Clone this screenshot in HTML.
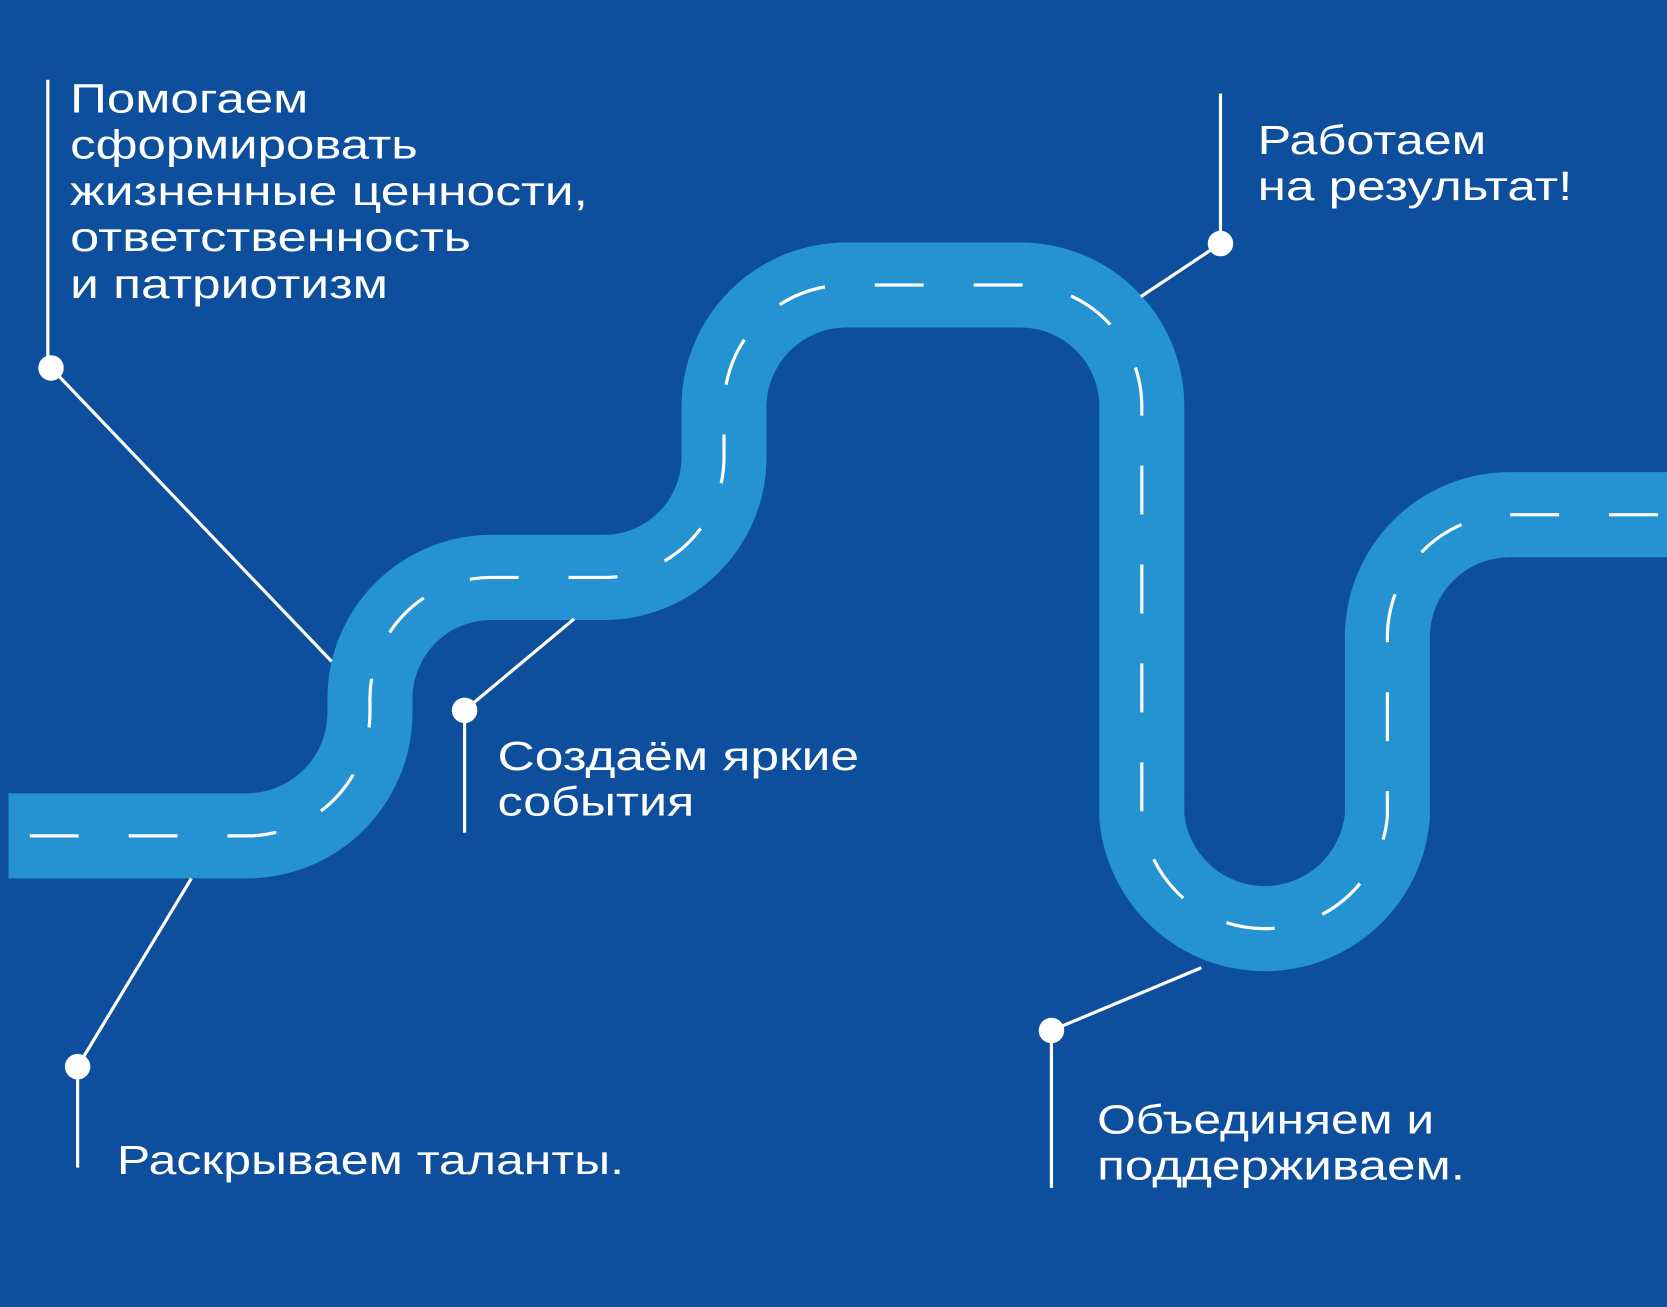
<!DOCTYPE html>
<html><head><meta charset="utf-8"><style>
html,body{margin:0;padding:0;background:#0d4f9c;}
svg{display:block;}
text{font-family:"Liberation Sans","DejaVu Sans",sans-serif;fill:#fff;font-size:38px;}
</style></head><body>
<svg width="1667" height="1307" viewBox="0 0 1568 1229" preserveAspectRatio="none" xmlns="http://www.w3.org/2000/svg">
<rect x="0" y="0" width="1568" height="1229" fill="#0d4f9c"/>
<g fill="none">
<path d="M8 786 H232 A116 116 0 0 0 348 670 V660 A114 114 0 0 1 462 543 H568 A113 113 0 0 0 681 430 V383 A115 115 0 0 1 797 268 H960 A114 114 0 0 1 1074 382 V768 A116 116 0 0 0 1305 768 V598 A115 115 0 0 1 1420 484 H1568" stroke="#2592d2" stroke-width="80"/>
<path d="M28 786 H232 A116 116 0 0 0 348 670 V660 A114 114 0 0 1 462 543 H568 A113 113 0 0 0 681 430 V383 A115 115 0 0 1 797 268 H960 A114 114 0 0 1 1074 382 V768 A116 116 0 0 0 1305 768 V598 A115 115 0 0 1 1420 484 H1568" stroke="#fff" stroke-width="3" stroke-dasharray="46 47"/>
</g>
<g stroke="#fff" stroke-width="3" fill="none">
<line x1="45" y1="75" x2="45" y2="346"/>
<line x1="48" y1="346" x2="312" y2="622"/>
<line x1="73" y1="1003" x2="73" y2="1098"/>
<line x1="73" y1="1003" x2="180" y2="826"/>
<line x1="437" y1="668" x2="437" y2="783"/>
<line x1="437" y1="668" x2="540" y2="582"/>
<line x1="1148" y1="88" x2="1148" y2="229"/>
<line x1="1148" y1="229" x2="1073" y2="279"/>
<line x1="989" y1="969" x2="989" y2="1117"/>
<line x1="989" y1="969" x2="1130" y2="910"/>
</g>
<g fill="#fff">
<circle cx="48" cy="346" r="12"/>
<circle cx="73" cy="1003" r="12"/>
<circle cx="437" cy="668" r="12"/>
<circle cx="1148" cy="229" r="12"/>
<circle cx="989" cy="969" r="12"/>
</g>
<text x="66" y="106" textLength="224" lengthAdjust="spacingAndGlyphs">Помогаем</text>
<text x="66" y="149" textLength="327" lengthAdjust="spacingAndGlyphs">сформировать</text>
<text x="66" y="193" textLength="487" lengthAdjust="spacingAndGlyphs">жизненные ценности,</text>
<text x="66" y="236" textLength="377" lengthAdjust="spacingAndGlyphs">ответственность</text>
<text x="66" y="280" textLength="299" lengthAdjust="spacingAndGlyphs">и патриотизм</text>
<text x="1183" y="145" textLength="215" lengthAdjust="spacingAndGlyphs">Работаем</text>
<text x="1183" y="188" textLength="296" lengthAdjust="spacingAndGlyphs">на результат!</text>
<text x="468" y="724" textLength="340" lengthAdjust="spacingAndGlyphs">Создаём яркие</text>
<text x="468" y="767" textLength="185" lengthAdjust="spacingAndGlyphs">события</text>
<text x="110" y="1104" textLength="477" lengthAdjust="spacingAndGlyphs">Раскрываем таланты.</text>
<text x="1032" y="1066" textLength="317" lengthAdjust="spacingAndGlyphs">Объединяем и</text>
<text x="1032" y="1109" textLength="346" lengthAdjust="spacingAndGlyphs">поддерживаем.</text>
</svg>
</body></html>
